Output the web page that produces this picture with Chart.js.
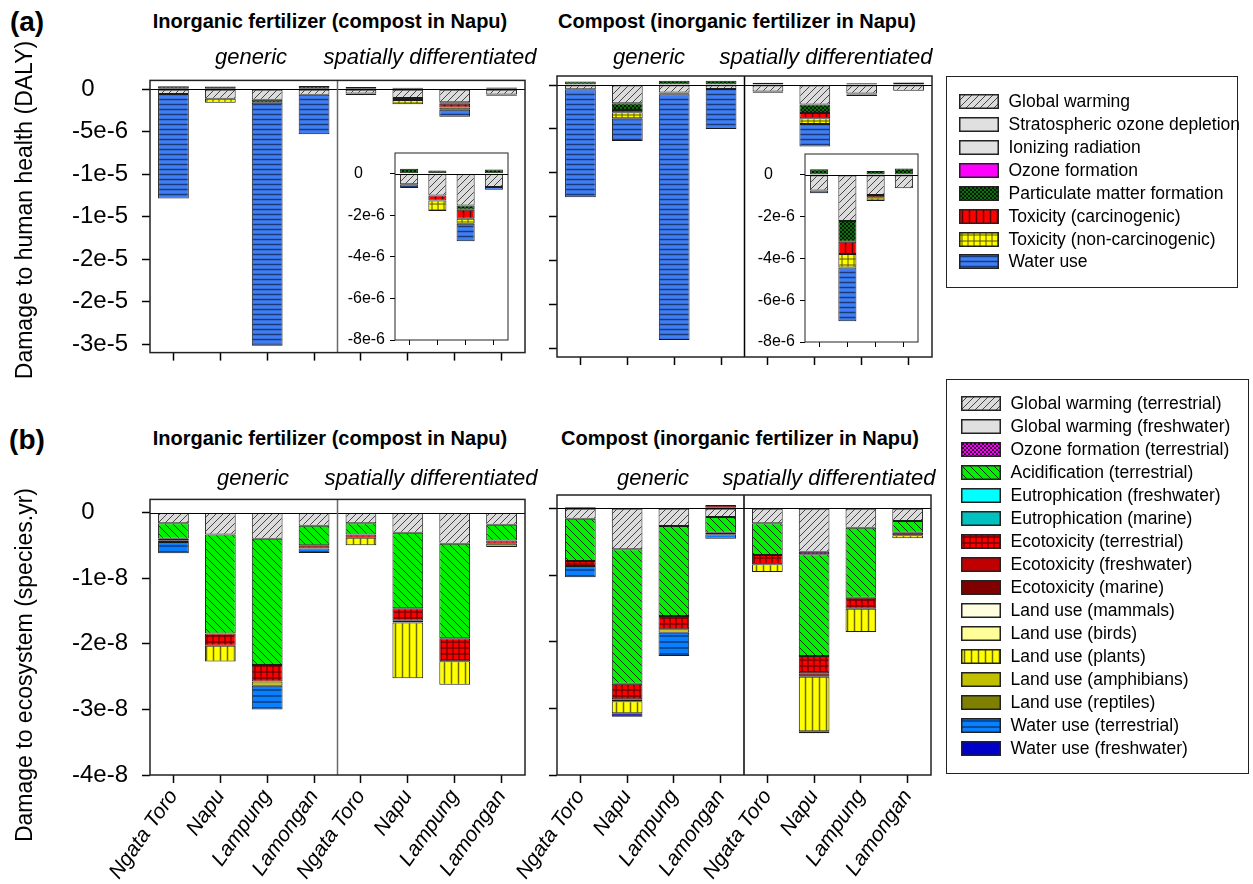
<!DOCTYPE html>
<html>
<head>
<meta charset="utf-8">
<script src="https://cdn.jsdelivr.net/npm/chart.js@4.4.1/dist/chart.umd.min.js"></script>
<style>
  body { margin: 0; background: #fff; font-family: "Liberation Sans", Arial, sans-serif; }
  #fig { position: relative; width: 1253px; height: 884px; overflow: hidden; background: #fff; }
  #fig > canvas { position: absolute; }
  .t { position: absolute; white-space: nowrap; color: #000; transform: translate(-50%, -50%); }
  .title { font-weight: bold; font-size: 20px; }
  .sub { font-style: italic; font-size: 22px; }
  .tag { font-weight: bold; font-size: 28px; }
  .ytitle { font-size: 23px; transform: translate(-50%, -50%) rotate(-90deg); }
  .legend { position: absolute; border: 1.5px solid #222; background: #fff; box-sizing: border-box; }
  .lrow { position: absolute; height: 23px; display: flex; align-items: center; font-size: 17.5px; white-space: nowrap; }
  .lrow canvas { margin-right: 10px; }
</style>
</head>
<body>
<div id="fig"></div>
<script>
'use strict';

/* ── Data ─────────────────────────────────────────────────────────────── */

const SITES = ['Ngata Toro', 'Napu', 'Lampung', 'Lamongan', 'Ngata Toro', 'Napu', 'Lampung', 'Lamongan'];

// (a) damage to human health, in 1e-6 DALY — inorganic fertilizer panel
const HH_INORG_GW    = [-0.57, -1.14, -1.25, -0.65, -0.51, -1.04, -1.53, -0.64];
const HH_INORG_PM    = [0.35, 0.30, -0.35, 0.38, 0.24, 0.16, -0.20, 0.20];
const HH_INORG_TOXC  = [0, 0, 0, 0, 0, -0.25, -0.44, 0];
const HH_INORG_TOXN  = [0, -0.45, 0, 0, 0, -0.50, -0.24, 0];
const HH_INORG_WATER = [-12.3, 0, -28.6, -4.65, -0.18, 0, -0.84, -0.13];

// (a) compost panel
const HH_COMP_GW    = [-0.49, -2.09, -0.84, -0.46, -0.75, -2.21, -0.96, -0.64];
const HH_COMP_PM    = [0.40, -0.76, 0.49, 0.49, 0.27, -0.99, 0.19, 0.30];
const HH_COMP_TOXC  = [0, -0.26, -0.10, 0, 0, -0.59, -0.11, 0];
const HH_COMP_TOXN  = [0, -0.69, -0.12, 0, 0, -0.64, -0.18, 0];
const HH_COMP_WATER = [-12.3, -2.58, -28.0, -4.54, -0.13, -2.58, 0, 0];

// (b) damage to ecosystem, in 1e-8 species.yr — inorganic fertilizer panel
const EQ_INORG_GWT    = [-0.165, -0.335, -0.40, -0.20, -0.165, -0.31, -0.475, -0.185];
const EQ_INORG_ACID   = [-0.235, -1.51, -1.925, -0.30, -0.17, -1.15, -1.44, -0.24];
const EQ_INORG_ECOT   = [-0.03, -0.185, -0.25, -0.05, -0.05, -0.19, -0.35, -0.05];
const EQ_INORG_ECOM   = [-0.02, 0, 0, 0, 0, -0.025, 0, 0];
const EQ_INORG_PLANTS = [0, -0.24, 0, 0, -0.115, -0.85, -0.36, 0];
const EQ_INORG_AMPH   = [0, 0, -0.065, 0, 0, 0, 0, -0.05];
const EQ_INORG_WATERT = [-0.17, 0, -0.36, -0.065, 0, 0, 0, 0];

// (b) compost panel
const EQ_COMP_GWT    = [-0.155, -0.615, -0.265, -0.13, -0.225, -0.65, -0.29, -0.19];
const EQ_COMP_OZONE  = [0, 0, 0, 0, 0, -0.04, 0, 0];
const EQ_COMP_ACID   = [-0.635, -2.015, -1.35, -0.235, -0.475, -1.525, -1.05, -0.175];
const EQ_COMP_ECOT   = [-0.075, -0.235, -0.20, -0.025, -0.14, -0.26, -0.165, -0.04];
const EQ_COMP_ECOM   = [0.02, -0.03, 0, 0.05, 0, -0.05, 0, 0];
const EQ_COMP_PLANTS = [0, -0.18, 0, 0, -0.115, -0.82, -0.35, -0.045];
const EQ_COMP_AMPH   = [0, 0, -0.05, 0, 0, 0, 0, 0];
const EQ_COMP_WATERT = [-0.17, 0, -0.35, -0.065, 0, 0, 0, 0];
const EQ_COMP_WATERF = [0, -0.05, 0, 0, 0, -0.03, 0, 0];

// axis ticks
const HH_TICKS  = [0, -5, -10, -15, -20, -25, -30];
const HH_LABELS = ['0', '-5e-6', '-1e-5', '-1e-5', '-2e-5', '-2e-5', '-3e-5'];
const IN_TICKS  = [0, -2, -4, -6, -8];
const IN_LABELS = ['0', '-2e-6', '-4e-6', '-6e-6', '-8e-6'];
const EQ_TICKS  = [0, -1, -2, -3, -4];
const EQ_LABELS = ['0', '-1e-8', '-2e-8', '-3e-8', '-4e-8'];

// legends
const HH_CATS = ['Global warming', 'Stratospheric ozone depletion', 'Ionizing radiation', 'Ozone formation',
    'Particulate matter formation', 'Toxicity (carcinogenic)', 'Toxicity (non-carcinogenic)', 'Water use'];
const EQ_CATS = ['Global warming (terrestrial)', 'Global warming (freshwater)', 'Ozone formation (terrestrial)',
    'Acidification (terrestrial)', 'Eutrophication (freshwater)', 'Eutrophication (marine)', 'Ecotoxicity (terrestrial)',
    'Ecotoxicity (freshwater)', 'Ecotoxicity (marine)', 'Land use (mammals)', 'Land use (birds)', 'Land use (plants)',
    'Land use (amphibians)', 'Land use (reptiles)', 'Water use (terrestrial)', 'Water use (freshwater)'];

/* ── Fill styles ──────────────────────────────────────────────────────── */

const STYLE = {
    gw:      { bg: '#dcdcdc', hatch: 'fdiag', size: 7, line: '#333', lw: 0.9 },
    gray:    { bg: '#e0e0e0' },
    magenta: { bg: '#ff00ff' },
    pm:      { bg: '#0a700a', hatch: 'check', size: 4, line: '#001800', lw: 1 },
    toxC:    { bg: '#ff0000', hatch: 'vert', size: 7, line: '#5a0000', lw: 1.5 },
    toxN:    { bg: '#ffff00', hatch: 'grid', size: 6, line: '#555500', lw: 1 },
    waterA:  { bg: '#3f7ff5', hatch: 'horiz', size: 5, line: '#1d3a78', lw: 1.5 },
    ozoneT:  { bg: '#ff00ff', hatch: 'check', size: 4, line: '#330033', lw: 1 },
    acid:    { bg: '#00f000', hatch: 'bdiag', size: 8, line: '#0b300b', lw: 1 },
    cyan:    { bg: '#00ffff' },
    teal:    { bg: '#00c0c0' },
    ecoT:    { bg: '#ff0000', hatch: 'grid', size: 6, line: '#700000', lw: 1.3 },
    ecoF:    { bg: '#c00000' },
    ecoM:    { bg: '#800000' },
    mammals: { bg: '#ffffe0' },
    birds:   { bg: '#ffff99' },
    plants:  { bg: '#ffff00', hatch: 'vert', size: 7, line: '#6a6a00', lw: 1.5 },
    amph:    { bg: '#c0c000' },
    rept:    { bg: '#808000' },
    waterT:  { bg: '#0a80ff', hatch: 'horiz', size: 6, line: '#003c80', lw: 1.5 },
    waterF:  { bg: '#0000c8' },
};
const HH_CAT_STYLE = ['gw', 'gray', 'gray', 'magenta', 'pm', 'toxC', 'toxN', 'waterA'];
const EQ_CAT_STYLE = ['gw', 'gray', 'ozoneT', 'acid', 'cyan', 'teal', 'ecoT', 'ecoF', 'ecoM',
    'mammals', 'birds', 'plants', 'amph', 'rept', 'waterT', 'waterF'];

function makeFill(st) {
    if (!st.hatch) return st.bg;
    const s = st.size;
    const c = document.createElement('canvas');
    c.width = c.height = s;
    const g = c.getContext('2d');
    g.fillStyle = st.bg;
    g.fillRect(0, 0, s, s);
    g.strokeStyle = st.line;
    g.lineWidth = st.lw;
    g.beginPath();
    const fdiag = () => { g.moveTo(-1, s + 1); g.lineTo(s + 1, -1); g.moveTo(-1, 1); g.lineTo(1, -1); g.moveTo(s - 1, s + 1); g.lineTo(s + 1, s - 1); };
    const bdiag = () => { g.moveTo(-1, -1); g.lineTo(s + 1, s + 1); g.moveTo(s - 1, -1); g.lineTo(s + 1, 1); g.moveTo(-1, s - 1); g.lineTo(1, s + 1); };
    if (st.hatch === 'fdiag') fdiag();
    if (st.hatch === 'bdiag') bdiag();
    if (st.hatch === 'check') { fdiag(); bdiag(); }
    if (st.hatch === 'vert' || st.hatch === 'grid') { g.moveTo(s / 2, 0); g.lineTo(s / 2, s); }
    if (st.hatch === 'horiz' || st.hatch === 'grid') { g.moveTo(0, s / 2); g.lineTo(s, s / 2); }
    g.stroke();
    return g.createPattern(c, 'repeat');
}
const FILL = {};
Object.keys(STYLE).forEach(k => { FILL[k] = makeFill(STYLE[k]); });

/* ── Series per panel ─────────────────────────────────────────────────── */

const HH_INORG = [[0, HH_INORG_GW], [4, HH_INORG_PM], [5, HH_INORG_TOXC], [6, HH_INORG_TOXN], [7, HH_INORG_WATER]];
const HH_COMP  = [[0, HH_COMP_GW], [4, HH_COMP_PM], [5, HH_COMP_TOXC], [6, HH_COMP_TOXN], [7, HH_COMP_WATER]];
const EQ_INORG = [[0, EQ_INORG_GWT], [3, EQ_INORG_ACID], [6, EQ_INORG_ECOT], [8, EQ_INORG_ECOM],
    [11, EQ_INORG_PLANTS], [12, EQ_INORG_AMPH], [14, EQ_INORG_WATERT]];
const EQ_COMP  = [[0, EQ_COMP_GWT], [2, EQ_COMP_OZONE], [3, EQ_COMP_ACID], [6, EQ_COMP_ECOT], [8, EQ_COMP_ECOM],
    [11, EQ_COMP_PLANTS], [12, EQ_COMP_AMPH], [14, EQ_COMP_WATERT], [15, EQ_COMP_WATERF]];

function datasets(series, cats, styles, from, barPct) {
    return series.map(([ci, vals]) => ({
        label: cats[ci],
        data: vals.slice(from),
        backgroundColor: FILL[styles[ci]],
        borderColor: '#1a1a1a',
        borderWidth: 1,
        borderSkipped: false,
        barPercentage: barPct,
        categoryPercentage: 1,
    }));
}

/* ── Frame / zero line / divider plugin ───────────────────────────────── */

const framePlugin = {
    id: 'frame',
    defaults: { divider: null, frameWidth: 1.5, bg: null },
    beforeDraw(chart, args, o) {
        const { ctx, chartArea: a } = chart;
        if (o.bg) { ctx.save(); ctx.fillStyle = o.bg; ctx.fillRect(a.left, a.top, a.width, a.height); ctx.restore(); }
    },
    afterDatasetsDraw(chart, args, o) {
        const { ctx, chartArea: a, scales: { x, y } } = chart;
        ctx.save();
        const y0 = Math.round(y.getPixelForValue(0)) + 0.5;
        ctx.strokeStyle = '#000';
        ctx.lineWidth = 1;
        ctx.beginPath(); ctx.moveTo(a.left, y0); ctx.lineTo(a.right, y0); ctx.stroke();
        if (o.divider) {
            const xm = (x.getPixelForTick(3) + x.getPixelForTick(4)) / 2;
            ctx.strokeStyle = o.divider;
            ctx.lineWidth = 1.5;
            ctx.beginPath(); ctx.moveTo(xm, a.top); ctx.lineTo(xm, a.bottom); ctx.stroke();
        }
        ctx.strokeStyle = '#222';
        ctx.lineWidth = o.frameWidth;
        ctx.strokeRect(a.left, a.top, a.width, a.height);
        ctx.restore();
    },
};
Chart.register(framePlugin);
Chart.defaults.font.family = '"Liberation Sans", Arial, Helvetica, sans-serif';
Chart.defaults.color = '#000';
Chart.defaults.animation = false;

/* ── Panel builder ────────────────────────────────────────────────────── */

const fig = document.getElementById('fig');

function panel(area, cfg) {
    const padL = 60, padT = 24, padR = 24;
    const cx = area.l - cfg.yw - padL;
    const cy = area.t - padT;
    const cw = area.r + padR - cx;
    const ch = area.b + cfg.xh + cfg.padB - cy;
    const cv = document.createElement('canvas');
    cv.width = cw; cv.height = ch;
    cv.style.left = cx + 'px'; cv.style.top = cy + 'px';
    cv.style.width = cw + 'px'; cv.style.height = ch + 'px';
    fig.appendChild(cv);

    return new Chart(cv.getContext('2d'), {
        type: 'bar',
        data: { labels: cfg.labels, datasets: cfg.datasets },
        options: {
            responsive: false,
            devicePixelRatio: 1,
            layout: { padding: { left: padL, top: padT, right: padR, bottom: cfg.padB } },
            plugins: {
                legend: { display: false },
                tooltip: { enabled: false },
                frame: { divider: cfg.divider || null, frameWidth: cfg.frameWidth, bg: cfg.bg || null },
            },
            scales: {
                x: {
                    stacked: true,
                    afterFit: s => { s.height = cfg.xh; },
                    grid: { drawOnChartArea: false, offset: false, tickLength: cfg.tl, tickWidth: cfg.tw, tickColor: '#000' },
                    border: { display: false },
                    ticks: {
                        display: !!cfg.showX, autoSkip: false, minRotation: 55, maxRotation: 55, padding: 2,
                        font: { size: 21, style: 'italic' }, color: '#000',
                    },
                },
                y: {
                    stacked: true,
                    min: cfg.min, max: cfg.max,
                    afterBuildTicks: s => { s.ticks = cfg.ticks.map(v => ({ value: v })); },
                    afterFit: s => { s.width = cfg.yw; },
                    grid: { drawOnChartArea: false, tickLength: cfg.tl, tickWidth: cfg.tw, tickColor: '#000' },
                    border: { display: false },
                    ticks: {
                        display: !!cfg.showY, padding: cfg.ypad, color: '#000',
                        font: { size: cfg.fs },
                        // the zero label sits further left than the others in the original
                        callback: (v, i) => v === 0 ? cfg.tickLabels[i] + ' '.repeat(cfg.zeroShift) : cfg.tickLabels[i],
                    },
                },
            },
        },
    });
}

/* ── (a) human health ── */
const MAIN_BAR = 0.656, INSET_BAR = 0.64;
const mainA = { min: -31, max: 1.03, ticks: HH_TICKS, tickLabels: HH_LABELS, xh: 10, padB: 14, tl: 8, tw: 1.5,
    fs: 24, ypad: 14, zeroShift: 5, frameWidth: 1.5 };

panel({ l: 150, t: 76, r: 525, b: 357 }, Object.assign({}, mainA, {
    labels: SITES, datasets: datasets(HH_INORG, HH_CATS, HH_CAT_STYLE, 0, MAIN_BAR),
    yw: 90, showY: true, divider: '#6a6a6a',
}));
panel({ l: 557, t: 76, r: 932, b: 357 }, Object.assign({}, mainA, {
    labels: SITES, datasets: datasets(HH_COMP, HH_CATS, HH_CAT_STYLE, 0, MAIN_BAR),
    yw: 10, showY: false, divider: '#000',
}));

/* ── (b) ecosystems ── */
const mainB = { min: -4, max: 0.2, ticks: EQ_TICKS, tickLabels: EQ_LABELS, xh: 105, padB: 4, tl: 8, tw: 1.5,
    fs: 24, ypad: 14, zeroShift: 5, frameWidth: 1.5, showX: true };

panel({ l: 150, t: 495, r: 525, b: 775 }, Object.assign({}, mainB, {
    labels: SITES, datasets: datasets(EQ_INORG, EQ_CATS, EQ_CAT_STYLE, 0, MAIN_BAR),
    yw: 90, showY: true, divider: '#6a6a6a',
}));
panel({ l: 557, t: 495, r: 931, b: 775 }, Object.assign({}, mainB, {
    labels: SITES, datasets: datasets(EQ_COMP, EQ_CATS, EQ_CAT_STYLE, 0, MAIN_BAR),
    yw: 10, showY: false, divider: '#000',
}));

/* ── insets: spatially differentiated bars of (a) ── */
const inset = { min: -8, max: 1, ticks: IN_TICKS, tickLabels: IN_LABELS, xh: 6, padB: 14, tl: 5, tw: 1, fs: 16, ypad: 5,
    zeroShift: 5, frameWidth: 1, yw: 50, showY: true, bg: '#fff' };

panel({ l: 395, t: 153, r: 508, b: 340 }, Object.assign({}, inset, {
    labels: SITES.slice(4), datasets: datasets(HH_INORG, HH_CATS, HH_CAT_STYLE, 4, INSET_BAR),
}));
panel({ l: 805, t: 154, r: 918, b: 342 }, Object.assign({}, inset, {
    labels: SITES.slice(4), datasets: datasets(HH_COMP, HH_CATS, HH_CAT_STYLE, 4, INSET_BAR),
}));

/* ── Text ─────────────────────────────────────────────────────────────── */

function text(cls, str, x, y) {
    const d = document.createElement('div');
    d.className = 't ' + cls;
    d.textContent = str;
    d.style.left = x + 'px';
    d.style.top = y + 'px';
    fig.appendChild(d);
}
text('tag', '(a)', 27, 22);
text('tag', '(b)', 27, 440);
text('title', 'Inorganic fertilizer (compost in Napu)', 330, 21);
text('title', 'Compost (inorganic fertilizer in Napu)', 737, 21);
text('title', 'Inorganic fertilizer (compost in Napu)', 330, 438);
text('title', 'Compost (inorganic fertilizer in Napu)', 740, 438);
text('sub', 'generic', 251, 57);
text('sub', 'spatially differentiated', 430, 57);
text('sub', 'generic', 649, 57);
text('sub', 'spatially differentiated', 826, 57);
text('sub', 'generic', 253, 478);
text('sub', 'spatially differentiated', 431, 478);
text('sub', 'generic', 653, 478);
text('sub', 'spatially differentiated', 829, 478);
text('ytitle', 'Damage to human health (DALY)', 24, 210);
text('ytitle', 'Damage to ecosystem (species.yr)', 24, 665);

/* ── Legends ──────────────────────────────────────────────────────────── */

function legend(box, cats, styles, rowTop, swLeft) {
    const lg = document.createElement('div');
    lg.className = 'legend';
    Object.assign(lg.style, { left: box.l + 'px', top: box.t + 'px', width: (box.r - box.l) + 'px', height: (box.b - box.t) + 'px' });
    cats.forEach((name, i) => {
        const row = document.createElement('div');
        row.className = 'lrow';
        row.style.left = swLeft + 'px';
        row.style.top = (rowTop + i * 22.97) + 'px';
        const sw = document.createElement('canvas');
        sw.width = 40; sw.height = 15;
        const g = sw.getContext('2d');
        g.fillStyle = FILL[styles[i]];
        g.fillRect(0, 0, 40, 15);
        g.strokeStyle = '#222';
        g.lineWidth = 1.5;
        g.strokeRect(0.75, 0.75, 38.5, 13.5);
        row.appendChild(sw);
        row.appendChild(document.createTextNode(name));
        lg.appendChild(row);
    });
    fig.appendChild(lg);
}
legend({ l: 946, t: 76, r: 1238, b: 288 }, HH_CATS, HH_CAT_STYLE, 12.7, 11.5);
legend({ l: 946, t: 379, r: 1249, b: 774 }, EQ_CATS, EQ_CAT_STYLE, 12.3, 13.5);
</script>
</body>
</html>
